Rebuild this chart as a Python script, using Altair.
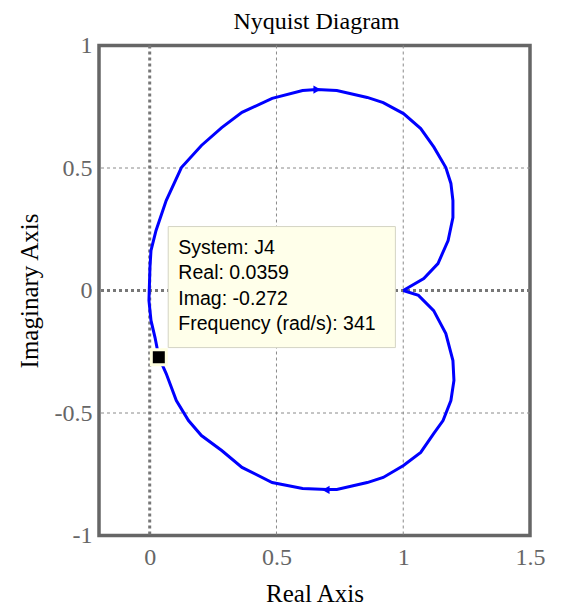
import altair as alt
import pandas as pd

# Nyquist curve (traversal order: from (1,0) down the lower branch, up the left side, across the top, back to (1,0))
curve_re = [1.000, 1.060, 1.120, 1.168, 1.196, 1.200, 1.188, 1.157, 1.120, 1.069, 1.001, 0.921, 0.858,
            0.738, 0.699, 0.603, 0.483, 0.364, 0.284, 0.204, 0.153, 0.105, 0.065, 0.036, 0.021, 0.005,
            -0.003, 0.001, 0.005, 0.025, 0.065, 0.125, 0.204, 0.284, 0.364, 0.483, 0.603, 0.659, 0.738,
            0.858, 0.921, 1.001, 1.069, 1.121, 1.168, 1.188, 1.196, 1.196, 1.177, 1.137, 1.081, 1.000]
curve_im = [0.000, -0.020, -0.082, -0.176, -0.286, -0.367, -0.449, -0.531, -0.584, -0.661, -0.714, -0.763,
            -0.784, -0.812, -0.812, -0.808, -0.784, -0.722, -0.653, -0.592, -0.531, -0.449, -0.339, -0.272,
            -0.192, -0.122, -0.041, 0.094, 0.163, 0.245, 0.367, 0.502, 0.592, 0.665, 0.727, 0.784, 0.816,
            0.820, 0.816, 0.788, 0.767, 0.722, 0.661, 0.585, 0.502, 0.437, 0.367, 0.298, 0.204, 0.110,
            0.049, 0.000]

arrow_re = [0.66, 0.695]
arrow_im = [0.82, -0.814]
arrow_shape = ["triangle-right", "triangle-left"]

marker_re = [0.0359]
marker_im = [-0.272]
info_lines = ["System: J4", "Real: 0.0359", "Imag: -0.272", "Frequency (rad/s): 341"]

x_ticks = [0, 0.5, 1, 1.5]
y_ticks = [-1, -0.5, 0, 0.5, 1]
grid_x = [0.5, 1.0]
grid_y = [-0.5, 0.5]
zero_x = [0.0]
zero_y = [0.0]

# data-tip box corners and text anchor (annotation placement)
box_x = [0.073, 0.969]
box_y = [-0.233, 0.261]
text_anchor = [0.113, 0.210]

SERIF = "Liberation Serif"
GRAY = "#666666"
LABEL = "'' + datum.value"

xscale = alt.Scale(domain=[-0.2, 1.5], nice=False, zero=False)
yscale = alt.Scale(domain=[-1, 1], nice=False, zero=False)
xaxis = alt.Axis(values=x_ticks, title="Real Axis", grid=False, domain=False, ticks=False,
                 labelExpr=LABEL,
                 labelFont=SERIF, labelFontSize=24, labelColor=GRAY, labelPadding=10,
                 titleFont=SERIF, titleFontSize=25, titleFontWeight="normal", titleColor="black",
                 titlePadding=12, labelFlush=False)
yaxis = alt.Axis(values=y_ticks, title="Imaginary Axis", grid=False, domain=False, ticks=False,
                 labelExpr=LABEL,
                 labelFont=SERIF, labelFontSize=24, labelColor=GRAY, labelPadding=7,
                 titleFont=SERIF, titleFontSize=25, titleFontWeight="normal", titleColor="black",
                 titlePadding=12, labelFlush=False)


def X(f="x"):
    return alt.X(f"{f}:Q", scale=xscale, axis=xaxis)


def Y(f="y"):
    return alt.Y(f"{f}:Q", scale=yscale, axis=yaxis)


curve_df = pd.DataFrame({"x": curve_re, "y": curve_im, "i": list(range(len(curve_re)))})
arrow_df = pd.DataFrame({"x": arrow_re, "y": arrow_im, "shape": arrow_shape})
marker_df = pd.DataFrame({"x": marker_re, "y": marker_im})
gx_df = pd.DataFrame({"x": grid_x})
gy_df = pd.DataFrame({"y": grid_y})
zx_df = pd.DataFrame({"x": zero_x})
zy_df = pd.DataFrame({"y": zero_y})
box_df = pd.DataFrame({"x": [box_x[0]], "x2": [box_x[1]], "y": [box_y[0]], "y2": [box_y[1]]})
text_df = pd.DataFrame({"x": [text_anchor[0]], "y": [text_anchor[1]], "t": ["\n".join(info_lines)]})

grid_v = alt.Chart(gx_df).mark_rule(color="#8a8a8a", strokeWidth=1, strokeDash=[3, 3]).encode(x=X())
grid_h = alt.Chart(gy_df).mark_rule(color="#8a8a8a", strokeWidth=1, strokeDash=[3, 3]).encode(y=Y())
zero_v = alt.Chart(zx_df).mark_rule(color="#777777", strokeWidth=3, strokeDash=[3, 3]).encode(x=X())
zero_h = alt.Chart(zy_df).mark_rule(color="#777777", strokeWidth=3, strokeDash=[3, 3]).encode(y=Y())

line = alt.Chart(curve_df).mark_line(color="#0000FF", strokeWidth=3).encode(
    x=X(), y=Y(), order="i:Q")

arrows = alt.Chart(arrow_df).mark_point(filled=True, color="#0000FF", size=70, opacity=1).encode(
    x=X(), y=Y(), shape=alt.Shape("shape:N", scale=None, legend=None))

box = alt.Chart(box_df).mark_rect(fill="#FFFFEA", stroke="#D4D4C4", strokeWidth=1).encode(
    x=X(), x2="x2:Q", y=Y(), y2="y2:Q")

text = alt.Chart(text_df).mark_text(align="left", baseline="top", lineBreak="\n", lineHeight=25.3,
                                    font="Liberation Sans", fontSize=19.5, color="black").encode(
    x=X(), y=Y(), text="t:N")

marker = alt.Chart(marker_df).mark_square(size=225, color="black", filled=True, opacity=1,
                                          stroke="#FFFFE0", strokeWidth=3).encode(x=X(), y=Y())

chart = alt.layer(grid_v, grid_h, zero_v, zero_h, line, arrows, box, text, marker).properties(
    width=431, height=490,
    title=alt.TitleParams("Nyquist Diagram", font=SERIF, fontSize=24, fontWeight="normal",
                          color="black", anchor="middle", offset=0, dx=2),
    autosize=alt.AutoSizeParams(type="none"),
    padding={"left": 91, "top": 37.5, "right": 24, "bottom": 70},
).configure_view(stroke=GRAY, strokeWidth=3.5)

chart.save("out.html", embed_options={"renderer": "svg", "actions": False})
